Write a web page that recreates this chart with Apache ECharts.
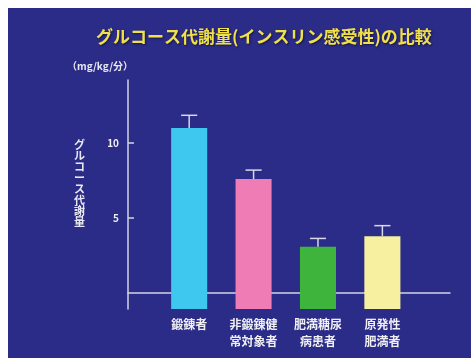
<!DOCTYPE html>
<html>
<head>
<meta charset="utf-8">
<script src="https://cdn.jsdelivr.net/npm/echarts@6/dist/echarts.min.js"></script>
<style>
html,body{margin:0;padding:0;background:#fff;}
#c{width:471px;height:358px;}
</style>
</head>
<body>
<div id="c"></div>
<script>
const categories = ['鍛錬者', '非鍛錬健\n常対象者', '肥満糖尿\n病患者', '原発性\n肥満者'];
const values = [11.0, 7.6, 3.1, 3.8];
const errors = [0.85, 0.6, 0.55, 0.7];
const barColors = ['#3ec8f0', '#f07cb6', '#3fb43c', '#f6f0a0'];
const yTicks = [5, 10];
const Y_MIN = -1.05, Y_MAX = 14.2;

const FONT = '"Noto Sans CJK JP", "Noto Sans", sans-serif';
const chart = echarts.init(document.getElementById('c'));

const points = values.map((v, i) => [i + 1, v, errors[i]]);

chart.setOption({
  backgroundColor: '#ffffff',
  animation: false,
  graphic: [{
    type: 'rect', z: -10, silent: true,
    shape: {x: 8, y: 8, width: 463, height: 350},
    style: {fill: '#2b2b88'}
  }],
  title: [{
    text: 'グルコース代謝量(インスリン感受性)の比較',
    left: 91, top: 23,
    textStyle: {color: '#f0e04a', fontSize: 17, fontWeight: 'bold', fontFamily: FONT,
      textShadowColor: 'rgba(0,0,0,0.5)', textShadowBlur: 2, textShadowOffsetX: 1, textShadowOffsetY: 1}
  }, {
    text: '（mg/kg/分）',
    left: 62, top: 56,
    textStyle: {color: '#e8e8f0', fontSize: 10, fontWeight: 'bold', fontFamily: FONT}
  }, {
    text: 'グルコース代謝量'.split('').join('\n'),
    left: 69, top: 134,
    textStyle: {color: '#e8e8f0', fontSize: 11, fontWeight: 'bold', fontFamily: FONT, lineHeight: 11}
  }],
  grid: {left: 128, right: 21, top: 80, bottom: 49},
  xAxis: {
    type: 'value', min: 0.05, max: 5.05,
    splitLine: {show: false},
    axisLine: {show: true, lineStyle: {color: '#d4d4e4', width: 1.5}},
    axisTick: {show: false},
    axisLabel: {
      customValues: [1, 2, 3, 4],
      formatter: v => categories[Math.round(v) - 1] || '',
      color: '#f0f0f4', fontSize: 12, fontWeight: 'bold', fontFamily: FONT,
      lineHeight: 17, margin: 7
    }
  },
  yAxis: {
    type: 'value', min: Y_MIN, max: Y_MAX,
    splitLine: {show: false},
    axisLine: {show: true, lineStyle: {color: '#d4d4e4', width: 1.5}},
    axisTick: {show: true, inside: true, length: 6, customValues: yTicks, lineStyle: {color: '#d4d4e4', width: 1.5}},
    axisLabel: {customValues: yTicks, color: '#f0f0f4', fontSize: 10, fontWeight: 'bold', fontFamily: FONT, margin: 9}
  },
  series: [{
    type: 'custom',
    data: points,
    renderItem: function (params, api) {
      const x = api.value(0), v = api.value(1), e = api.value(2);
      const top = api.coord([x, v]);
      const base = api.coord([x, Y_MIN]);
      const cap = api.coord([x, v + e]);
      const w = api.size([1, 0])[0] * 0.56;
      const capW = api.size([1, 0])[0] * 0.25;
      return {
        type: 'group',
        children: [{
          type: 'rect',
          shape: {x: top[0] - w / 2, y: top[1], width: w, height: base[1] - top[1]},
          style: {fill: barColors[params.dataIndex]}
        }, {
          type: 'line',
          shape: {x1: top[0], y1: top[1], x2: cap[0], y2: cap[1]},
          style: {stroke: '#d8d8e6', lineWidth: 1.5}
        }, {
          type: 'line',
          shape: {x1: cap[0] - capW / 2, y1: cap[1], x2: cap[0] + capW / 2, y2: cap[1]},
          style: {stroke: '#d8d8e6', lineWidth: 1.5}
        }]
      };
    }
  }]
});
</script>
</body>
</html>
